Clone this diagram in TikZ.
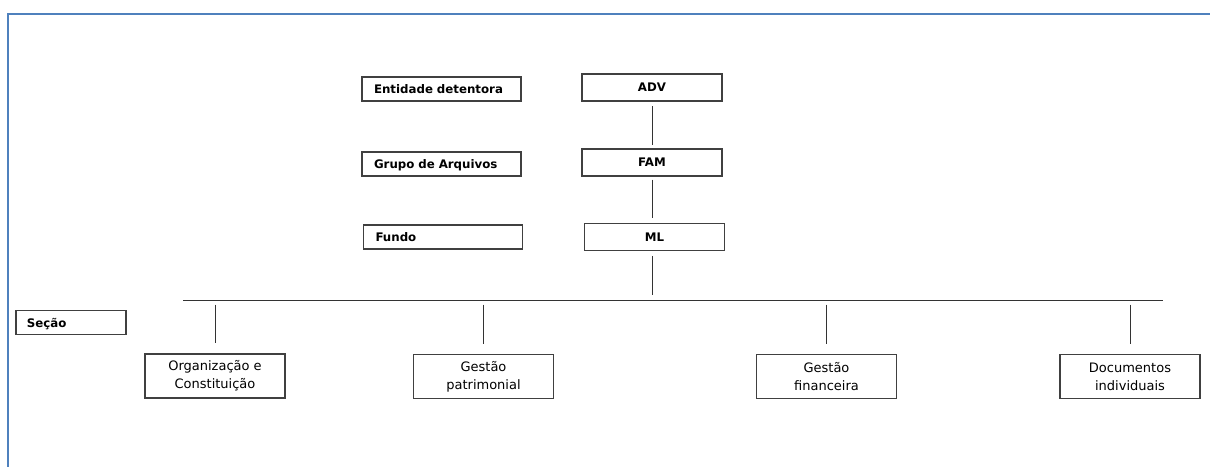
\documentclass[tikz,border=0pt]{standalone}
\usepackage{fontspec}
\setmainfont{DejaVu Sans}
\begin{document}
\begin{tikzpicture}[x=1pt,y=-1pt,
  bfont/.style={font=\bfseries\fontsize{11.8}{13}\selectfont},
  lvl/.style={draw=black!75, line width=1.1pt, minimum height=24pt, text width=135pt, inner xsep=12pt, inner ysep=0pt, align=left, bfont, text depth=0pt},
  unit/.style={draw=black!75, line width=1.1pt, minimum width=140pt, minimum height=27pt, inner sep=0pt, align=center, bfont},
  sec/.style={draw=black!75, line width=1.1pt, minimum width=140pt, minimum height=44pt, inner sep=0pt, align=center, font=\fontsize{13}{18}\selectfont},
  conn/.style={draw=black!80, line width=0.9pt}]
\useasboundingbox (0,0) rectangle (1210,466);
\draw[color={rgb,255:red,79;green,129;blue,189}, line width=2.2pt] (8,470) -- (8,14) -- (1214,14);
% level labels
\node[lvl] (ent) at (441.5,89) {Entidade detentora};
\node[lvl] (grp) at (441.5,164) {Grupo de Arquivos};
\node[lvl] (fun) at (443,237) {Fundo};
\node[lvl, text width=88pt, inner xsep=11pt] (sec) at (71,322.5) {Seção};
% hierarchy
\node[unit] (adv) at (652,87.5) {ADV};
\node[unit] (fam) at (652,162.5) {FAM};
\node[unit] (ml) at (654.5,236.7) {ML};
\node[sec] (org) at (215,376) {Organização e\\Constituição};
\node[sec] (pat) at (483.5,376.5) {Gestão\\patrimonial};
\node[sec] (fin) at (826.5,376.8) {Gestão\\financeira};
\node[sec] (doc) at (1130,376.5) {Documentos\\individuais};
\coordinate (busL) at (183,300);
\coordinate (busR) at (1163,300);
\draw[conn, shorten <=4.5pt, shorten >=3.5pt] (adv.south -| fam.north) -- (fam.north);
\draw[conn, shorten <=3pt, shorten >=5pt] (fam.south) -- (fam.south |- ml.north);
\draw[conn, shorten <=5pt, shorten >=5pt] (fam.south |- ml.south) -- (fam.south |- busL);
\draw[conn] (busL) -- (busR);
\foreach \n in {org,pat,fin,doc}
  \draw[conn, shorten <=4.5pt, shorten >=10pt] (\n.north |- busL) -- (\n.north);
\end{tikzpicture}
\end{document}
